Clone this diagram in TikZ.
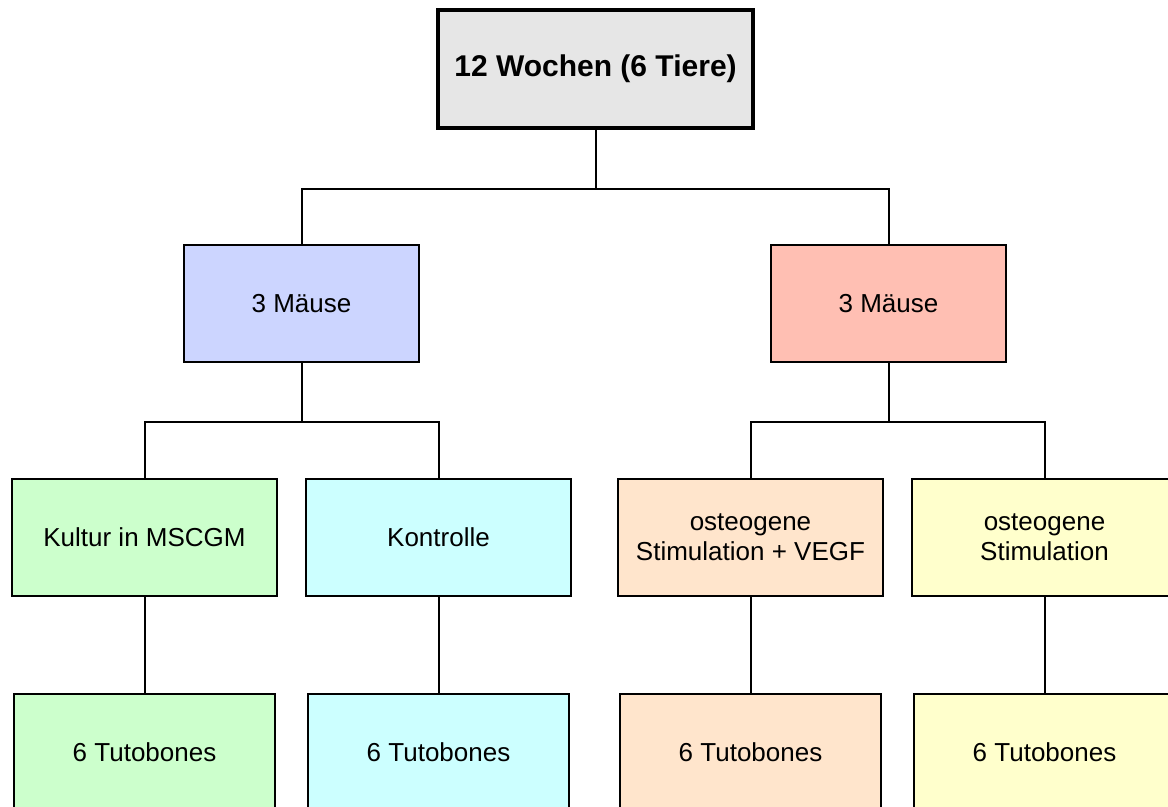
\documentclass[tikz,border=0pt]{standalone}
\usepackage{fontspec}
\setmainfont{Liberation Sans}
\definecolor{topgray}{HTML}{E6E6E6}
\definecolor{miceblue}{HTML}{CCD5FF}
\definecolor{micered}{HTML}{FFBFB3}
\definecolor{kultgreen}{HTML}{CCFFCC}
\definecolor{kontcyan}{HTML}{CCFFFF}
\definecolor{vegforange}{HTML}{FFE5CC}
\definecolor{stimyellow}{HTML}{FFFFCC}
\usetikzlibrary{positioning}

\begin{document}
\begin{tikzpicture}[x=0.5pt,y=-0.5pt,
  box/.style={draw,line width=1pt,minimum height=58.5pt,align=center,
    font=\fontsize{13}{15}\selectfont},
  line/.style={line width=1pt}]
  \clip (0,0) rectangle (1168,807);
  \fill[white] (0,0) rectangle (1168,807);
  \node[box,fill=topgray,line width=1.8pt,minimum width=157.5pt,minimum height=59pt,
    font=\fontsize{15}{18}\selectfont\bfseries] (top) at (595.5,69) {12 Wochen (6 Tiere)};
  \node[box,fill=miceblue,minimum width=117.5pt] (mleft) at (301.5,303.5) {3 Mäuse};
  \node[box,fill=micered,minimum width=117.5pt] (mright) at (888.5,303.5) {3 Mäuse};
  % groups
  \node[box,fill=kultgreen,minimum width=132.5pt] (kultur) at (144.5,537.5) {Kultur in MSCGM};
  \node[box,fill=kontcyan,minimum width=132.5pt] (kontr) at (438.5,537.5) {Kontrolle};
  \node[box,fill=vegforange,minimum width=132.5pt] (vegf) at (750.5,537.5) {osteogene\\Stimulation + VEGF};
  \node[box,fill=stimyellow,minimum width=132.5pt] (stim) at (1044.5,537.5) {osteogene\\Stimulation};
  % tutobones
  \node[box,fill=kultgreen,minimum width=130.5pt] (tkultur) at (144.5,752.5) {6 Tutobones};
  \node[box,fill=kontcyan,minimum width=130.5pt] (tkontr) at (438.5,752.5) {6 Tutobones};
  \node[box,fill=vegforange,minimum width=130.5pt] (tvegf) at (750.5,752.5) {6 Tutobones};
  \node[box,fill=stimyellow,minimum width=130.5pt] (tstim) at (1044.5,752.5) {6 Tutobones};
  \draw[line] (top.south) -- ++(0,59) -| (mleft.north);
  \draw[line] (top.south) -- ++(0,59) -| (mright.north);
  \draw[line] (mleft.south) -- ++(0,59) -| (kultur.north);
  \draw[line] (mleft.south) -- ++(0,59) -| (kontr.north);
  \draw[line] (mright.south) -- ++(0,59) -| (vegf.north);
  \draw[line] (mright.south) -- ++(0,59) -| (stim.north);
  \draw[line] (kultur) -- (tkultur);
  \draw[line] (kontr) -- (tkontr);
  \draw[line] (vegf) -- (tvegf);
  \draw[line] (stim) -- (tstim);
\end{tikzpicture}
\end{document}
